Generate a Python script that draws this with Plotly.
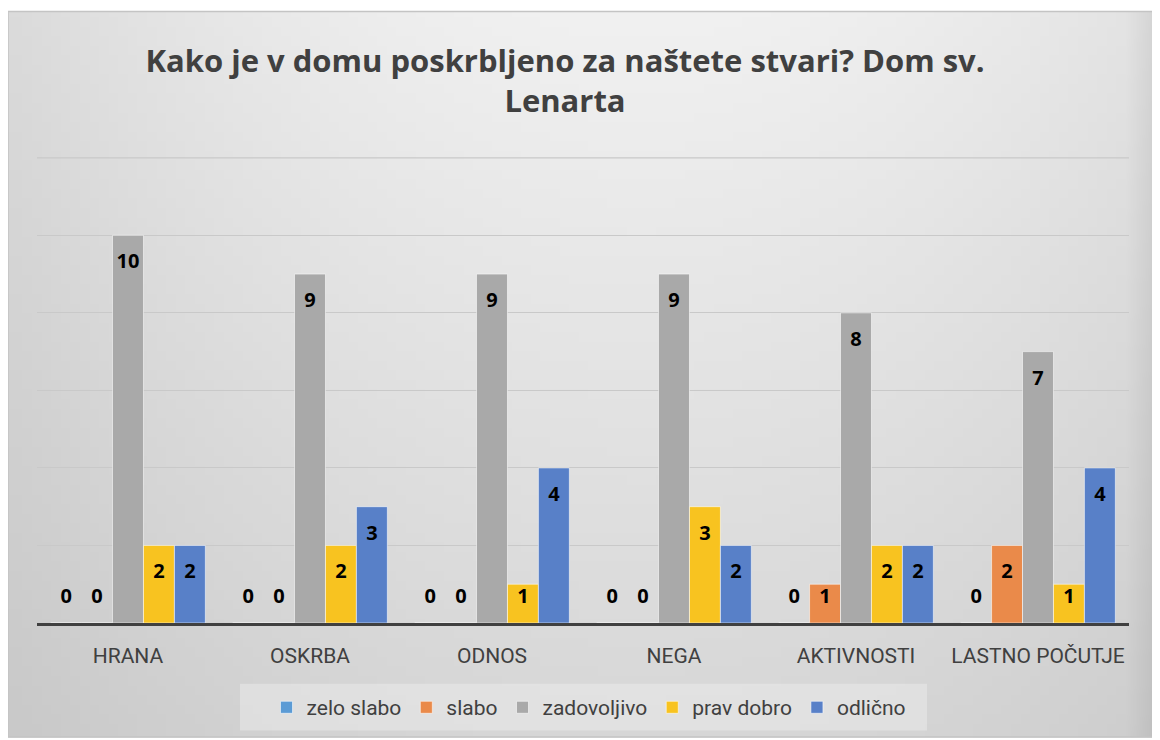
import base64
import struct
import zlib

import plotly.graph_objects as go

categories = ["HRANA", "OSKRBA", "ODNOS", "NEGA", "AKTIVNOSTI", "LASTNO POČUTJE"]
series_names = ["zelo slabo", "slabo", "zadovoljivo", "prav dobro", "odlično"]
zelo_slabo = [0, 0, 0, 0, 0, 0]
slabo = [0, 0, 0, 0, 1, 2]
zadovoljivo = [10, 9, 9, 9, 8, 7]
prav_dobro = [2, 2, 1, 3, 2, 1]
odlicno = [2, 3, 4, 2, 2, 4]
y_ticks = [0, 2, 4, 6, 8, 10, 12]

series = [zelo_slabo, slabo, zadovoljivo, prav_dobro, odlicno]
colors = ["#5b9bd5", "#ea8a4a", "#a9a9a9", "#f8c320", "#5880c8"]


def gradient_png(w=120, h=76):
    rows = b""
    for j in range(h):
        v = j / (h - 1)
        row = b"\x00"
        for i in range(w):
            u = i / (w - 1)
            hx = ((u - 0.55) / 0.55) ** 2
            val = 241 - 22 * hx - 26 * v + 8 * hx * v
            if u > 0.975:
                val -= (u - 0.975) / 0.025 * 14
            c = max(0, min(255, int(val)))
            row += bytes([c, c, c])
        rows += row

    def chunk(t, d):
        return struct.pack(">I", len(d)) + t + d + struct.pack(">I", zlib.crc32(t + d) & 0xffffffff)
    png = b"\x89PNG\r\n\x1a\n" + chunk(b"IHDR", struct.pack(">IIBBBBB", w, h, 8, 2, 0, 0, 0))
    png += chunk(b"IDAT", zlib.compress(rows)) + chunk(b"IEND", b"")
    return "data:image/png;base64," + base64.b64encode(png).decode()


BARGAP = 0.15
fig = go.Figure()
for i, (name, vals, col) in enumerate(zip(series_names, series, colors)):
    fig.add_trace(go.Bar(
        name=name, x=categories, y=vals, offsetgroup=str(i),
        marker=dict(color=col, line=dict(color="rgba(255,255,255,0.55)", width=1)),
        hoverinfo="x+y+name",
    ))
# data labels (inside end, as in the original)
for i, (name, vals) in enumerate(zip(series_names, series)):
    fig.add_trace(go.Scatter(
        x=categories, y=[max(v - 0.72, 0.64) for v in vals],
        text=[str(v) for v in vals], mode="text", offsetgroup=str(i),
        textfont=dict(family="Open Sans", size=20, color="#000000", weight="bold"),
        showlegend=False, hoverinfo="skip",
    ))

W, H = 1152, 732
L, R, T, B = 29, 31, 149, 115
pw, ph = W - L - R, H - T - B


def px(x):
    return (x - L) / pw


def py(y):
    return (H - B - y) / ph


fig.add_layout_image(dict(source=gradient_png(), xref="paper", yref="paper",
                          x=px(0), y=py(3), sizex=px(1151) - px(0), sizey=py(3) - py(732),
                          sizing="stretch", xanchor="left", yanchor="top", layer="below"))
fig.add_shape(type="rect", xref="paper", yref="paper",
              x0=px(0), x1=px(1150.5), y0=py(3), y1=py(731.5),
              fillcolor="rgba(0,0,0,0)", line=dict(color="#c4c4c4", width=1.5), layer="below")
# legend box
fig.add_shape(type="rect", xref="paper", yref="paper",
              x0=px(232), x1=px(919), y0=py(678), y1=py(725),
              fillcolor="rgba(236,236,236,0.5)", line=dict(width=0), layer="below")
# top gridline (edge of the value axis)
fig.add_shape(type="line", xref="paper", yref="y", x0=0, x1=1, y0=y_ticks[-1], y1=y_ticks[-1],
              line=dict(color="#c9c9c9", width=1.3), layer="below")

fig.update_layout(
    width=W, height=H,
    margin=dict(l=L, r=R, t=T, b=B),
    paper_bgcolor="#ffffff", plot_bgcolor="rgba(0,0,0,0)",
    barmode="group", bargap=BARGAP, bargroupgap=0,
    scattermode="group", scattergap=BARGAP,
    title=dict(text="<b>Kako je v domu poskrbljeno za naštete stvari? Dom sv.<br>Lenarta</b>",
               x=557 / W, xanchor="center", y=1 - 64 / H, yanchor="middle",
               font=dict(family="Open Sans", size=31, color="#404040")),
    font=dict(family="Open Sans", color="#404040"),
    legend=dict(orientation="h", x=px(581), xanchor="center", y=py(702), yanchor="middle",
                bgcolor="rgba(0,0,0,0)", font=dict(size=21, color="#404040", family="Roboto"),
                traceorder="normal", itemwidth=30),
    showlegend=True,
)
fig.update_xaxes(showgrid=False, showline=True, linecolor="#404040", linewidth=3,
                 ticks="", tickfont=dict(family="Roboto", size=21, color="#404040"),
                 ticklabelstandoff=12)
fig.update_yaxes(range=[0, 12.02], tickvals=y_ticks, showticklabels=False, showgrid=True,
                 gridcolor="#c9c9c9", gridwidth=1.3, zeroline=False, showline=False)

fig.write_html("out.html")
